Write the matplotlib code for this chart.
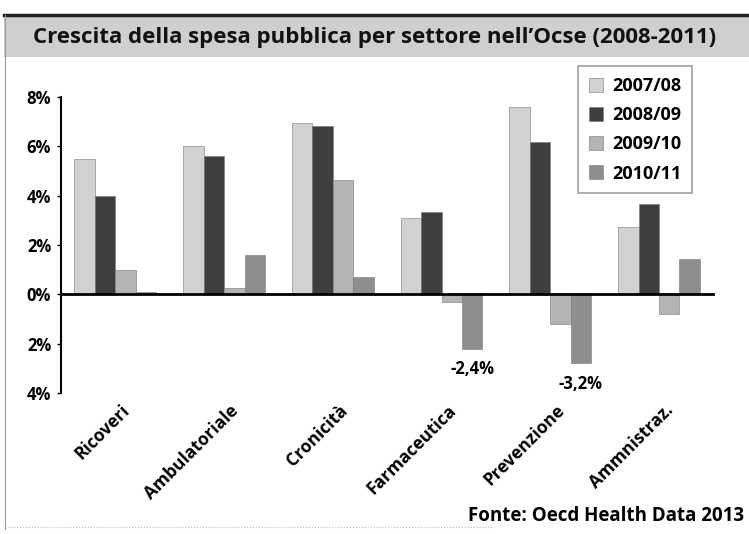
import matplotlib
matplotlib.use("Agg")
import matplotlib.pyplot as plt
from matplotlib.patches import Rectangle
import numpy as np

plt.rcParams['font.family'] = ['Open Sans', 'DejaVu Sans']
plt.rcParams['font.weight'] = 'bold'

# dati
settori = ["Ricoveri", "Ambulatoriale", "Cronicità", "Farmaceutica", "Prevenzione", "Ammnistraz."]
anni = ["2007/08", "2008/09", "2009/10", "2010/11"]
v_0708 = [5.5, 6.0, 6.95, 3.1, 7.6, 2.75]
v_0809 = [4.0, 5.6, 6.85, 3.35, 6.2, 3.65]
v_0910 = [1.0, 0.25, 4.65, -0.3, -1.2, -0.8]
v_1011 = [0.1, 1.6, 0.7, -2.2, -2.8, 1.45]
colori = ["#d2d2d2", "#3e3e3e", "#b4b4b4", "#8e8e8e"]

yticks = [8, 6, 4, 2, 0, -2, -4]
ytick_labels = ["8%", "6%", "4%", "2%", "0%", "2%", "4%"]

# etichette sulle barre negative (settore, serie, testo)
etichette = [(3, 3, "-2,4%"), (4, 3, "-3,2%")]

serie = [v_0708, v_0809, v_0910, v_1011]

fig = plt.figure(figsize=(7.49, 5.34), dpi=100)

# fascia del titolo
fig.patches.append(Rectangle((0.006, 0.893), 0.994, 0.078, transform=fig.transFigure,
                             facecolor="#cfcfcf", edgecolor="none", zorder=0))
fig.lines.append(plt.Line2D([0.006, 1.0], [0.971, 0.971], transform=fig.transFigure,
                            color="#222222", lw=2.5))
fig.lines.append(plt.Line2D([0.007, 0.007], [0.01, 0.971], transform=fig.transFigure,
                            color="#999999", lw=0.8))
fig.lines.append(plt.Line2D([0.007, 0.66], [0.013, 0.013], transform=fig.transFigure,
                            color="#bbbbbb", lw=0.8, ls=":"))
fig.text(0.5, 0.93, "Crescita della spesa pubblica per settore nell\u2019Ocse (2008-2011)",
         ha="center", va="center", fontsize=16, fontweight="bold", color="#111111")

ax = fig.add_axes([0.0814, 0.264, 0.871, 0.554])
x = np.arange(len(settori))
w = 0.188
for i, (vals, col, lab) in enumerate(zip(serie, colori, anni)):
    ax.bar(x + (i - 1.5) * w, vals, width=w, color=col, edgecolor="#777777",
           linewidth=0.4, label=lab, zorder=2)

for s, k, txt in etichette:
    ax.text(x[s] + (k - 1.5) * w, serie[k][s] - 0.45, txt, ha="center", va="top",
            fontsize=12, fontweight="bold")

ax.set_xlim(-0.5, len(settori) - 0.5)
ax.set_ylim(-4, 8)
ax.set_yticks(yticks)
ax.set_yticklabels(ytick_labels, fontsize=12, fontweight="bold")
ax.spines["top"].set_visible(False)
ax.spines["right"].set_visible(False)
ax.spines["bottom"].set_position(("data", 0))
ax.spines["bottom"].set_linewidth(2)
ax.spines["left"].set_linewidth(1.5)
ax.tick_params(axis="y", length=3, width=1, pad=4)
ax.tick_params(axis="x", length=0, pad=0)
ax.set_xticks(x)
ax.set_xticklabels([])
for xi, nome in zip(x, settori):
    ax.annotate(nome, xy=(xi, -4), xytext=(4, -6), textcoords="offset points",
                rotation=45, ha="right", va="top", rotation_mode="anchor",
                fontsize=12.5, fontweight="bold", annotation_clip=False)

leg = ax.legend(loc="upper right", bbox_to_anchor=(0.968, 1.105), borderaxespad=0,
                fontsize=13, frameon=True, fancybox=False, edgecolor="#888888",
                handlelength=0.8, handleheight=0.8, labelspacing=0.62,
                borderpad=0.6, handletextpad=0.5)
leg.get_frame().set_linewidth(1.2)
leg.set_zorder(5)
for t in leg.get_texts():
    t.set_fontweight("bold")

fig.text(0.994, 0.033, "Fonte: Oecd Health Data 2013", ha="right", va="center",
         fontsize=13.5, fontweight="bold")

fig.savefig("out.png", dpi=100)
